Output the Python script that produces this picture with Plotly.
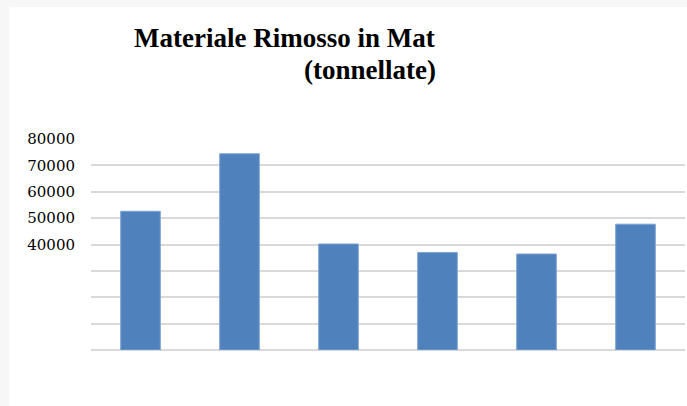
import plotly.graph_objects as go

categories = ["1", "2", "3", "4", "5", "6"]
values = [52600, 74400, 40200, 37000, 36400, 47700]
tick_values = [0, 10000, 20000, 30000, 40000, 50000, 60000, 70000, 80000]
tick_labels = ["", "", "", "", "40000", "50000", "60000", "70000", "80000"]
title_line1 = "Materiale Rimosso in Mat"
title_line2 = "(tonnellate)"

W, H = 687, 406
L, R, T, B = 91, 2, 139, 56
pw = W - L - R
ph = H - T - B

def px_x(x):
    return (x - L) / pw

def px_y(y):
    return (H - B - y) / ph

fig = go.Figure()
fig.add_trace(go.Bar(
    x=categories, y=values,
    marker=dict(color="#4f81bd", line=dict(color="#7fa3d3", width=1)),
    width=0.4,
))

shapes = [
    dict(type="rect", xref="paper", yref="paper", x0=px_x(-5), x1=px_x(9), y0=px_y(H + 5), y1=px_y(-5),
         fillcolor="#f7f7f7", line=dict(width=0), layer="below"),
    dict(type="rect", xref="paper", yref="paper", x0=px_x(-5), x1=px_x(W + 5), y0=px_y(7), y1=px_y(-5),
         fillcolor="#f7f7f7", line=dict(width=0), layer="below"),
]

title_font = dict(family="Liberation Serif", size=27, color="#000000")
annotations = [
    dict(text="<b>" + title_line1 + "</b>", xref="paper", yref="paper", x=px_x(134), y=px_y(38),
         xanchor="left", yanchor="middle", align="left", borderpad=0, borderwidth=0,
         showarrow=False, font=title_font),
    dict(text="<b>" + title_line2 + "</b>", xref="paper", yref="paper", x=px_x(304), y=px_y(70),
         xanchor="left", yanchor="middle", align="left", borderpad=0, borderwidth=0,
         showarrow=False, font=title_font),
]

fig.update_layout(
    width=W, height=H,
    margin=dict(l=L, r=R, t=T, b=B, pad=0),
    paper_bgcolor="white", plot_bgcolor="white",
    showlegend=False,
    shapes=shapes,
    annotations=annotations,
    bargap=0.6,
    xaxis=dict(showticklabels=False, showgrid=False, zeroline=False, showline=False, ticks=""),
    yaxis=dict(range=[0, 80000], tickvals=tick_values, ticktext=tick_labels,
               showgrid=True, gridcolor="#d9d9d9", gridwidth=1.5,
               zeroline=True, zerolinecolor="#d9d9d9", zerolinewidth=1.5,
               showline=False, ticks="", ticklabelstandoff=15,
               tickfont=dict(family="DejaVu Serif", size=15, color="#000000")),
)

fig.write_html("out.html", config={"displayModeBar": False},
               post_script="document.body.style.margin='0px';")
